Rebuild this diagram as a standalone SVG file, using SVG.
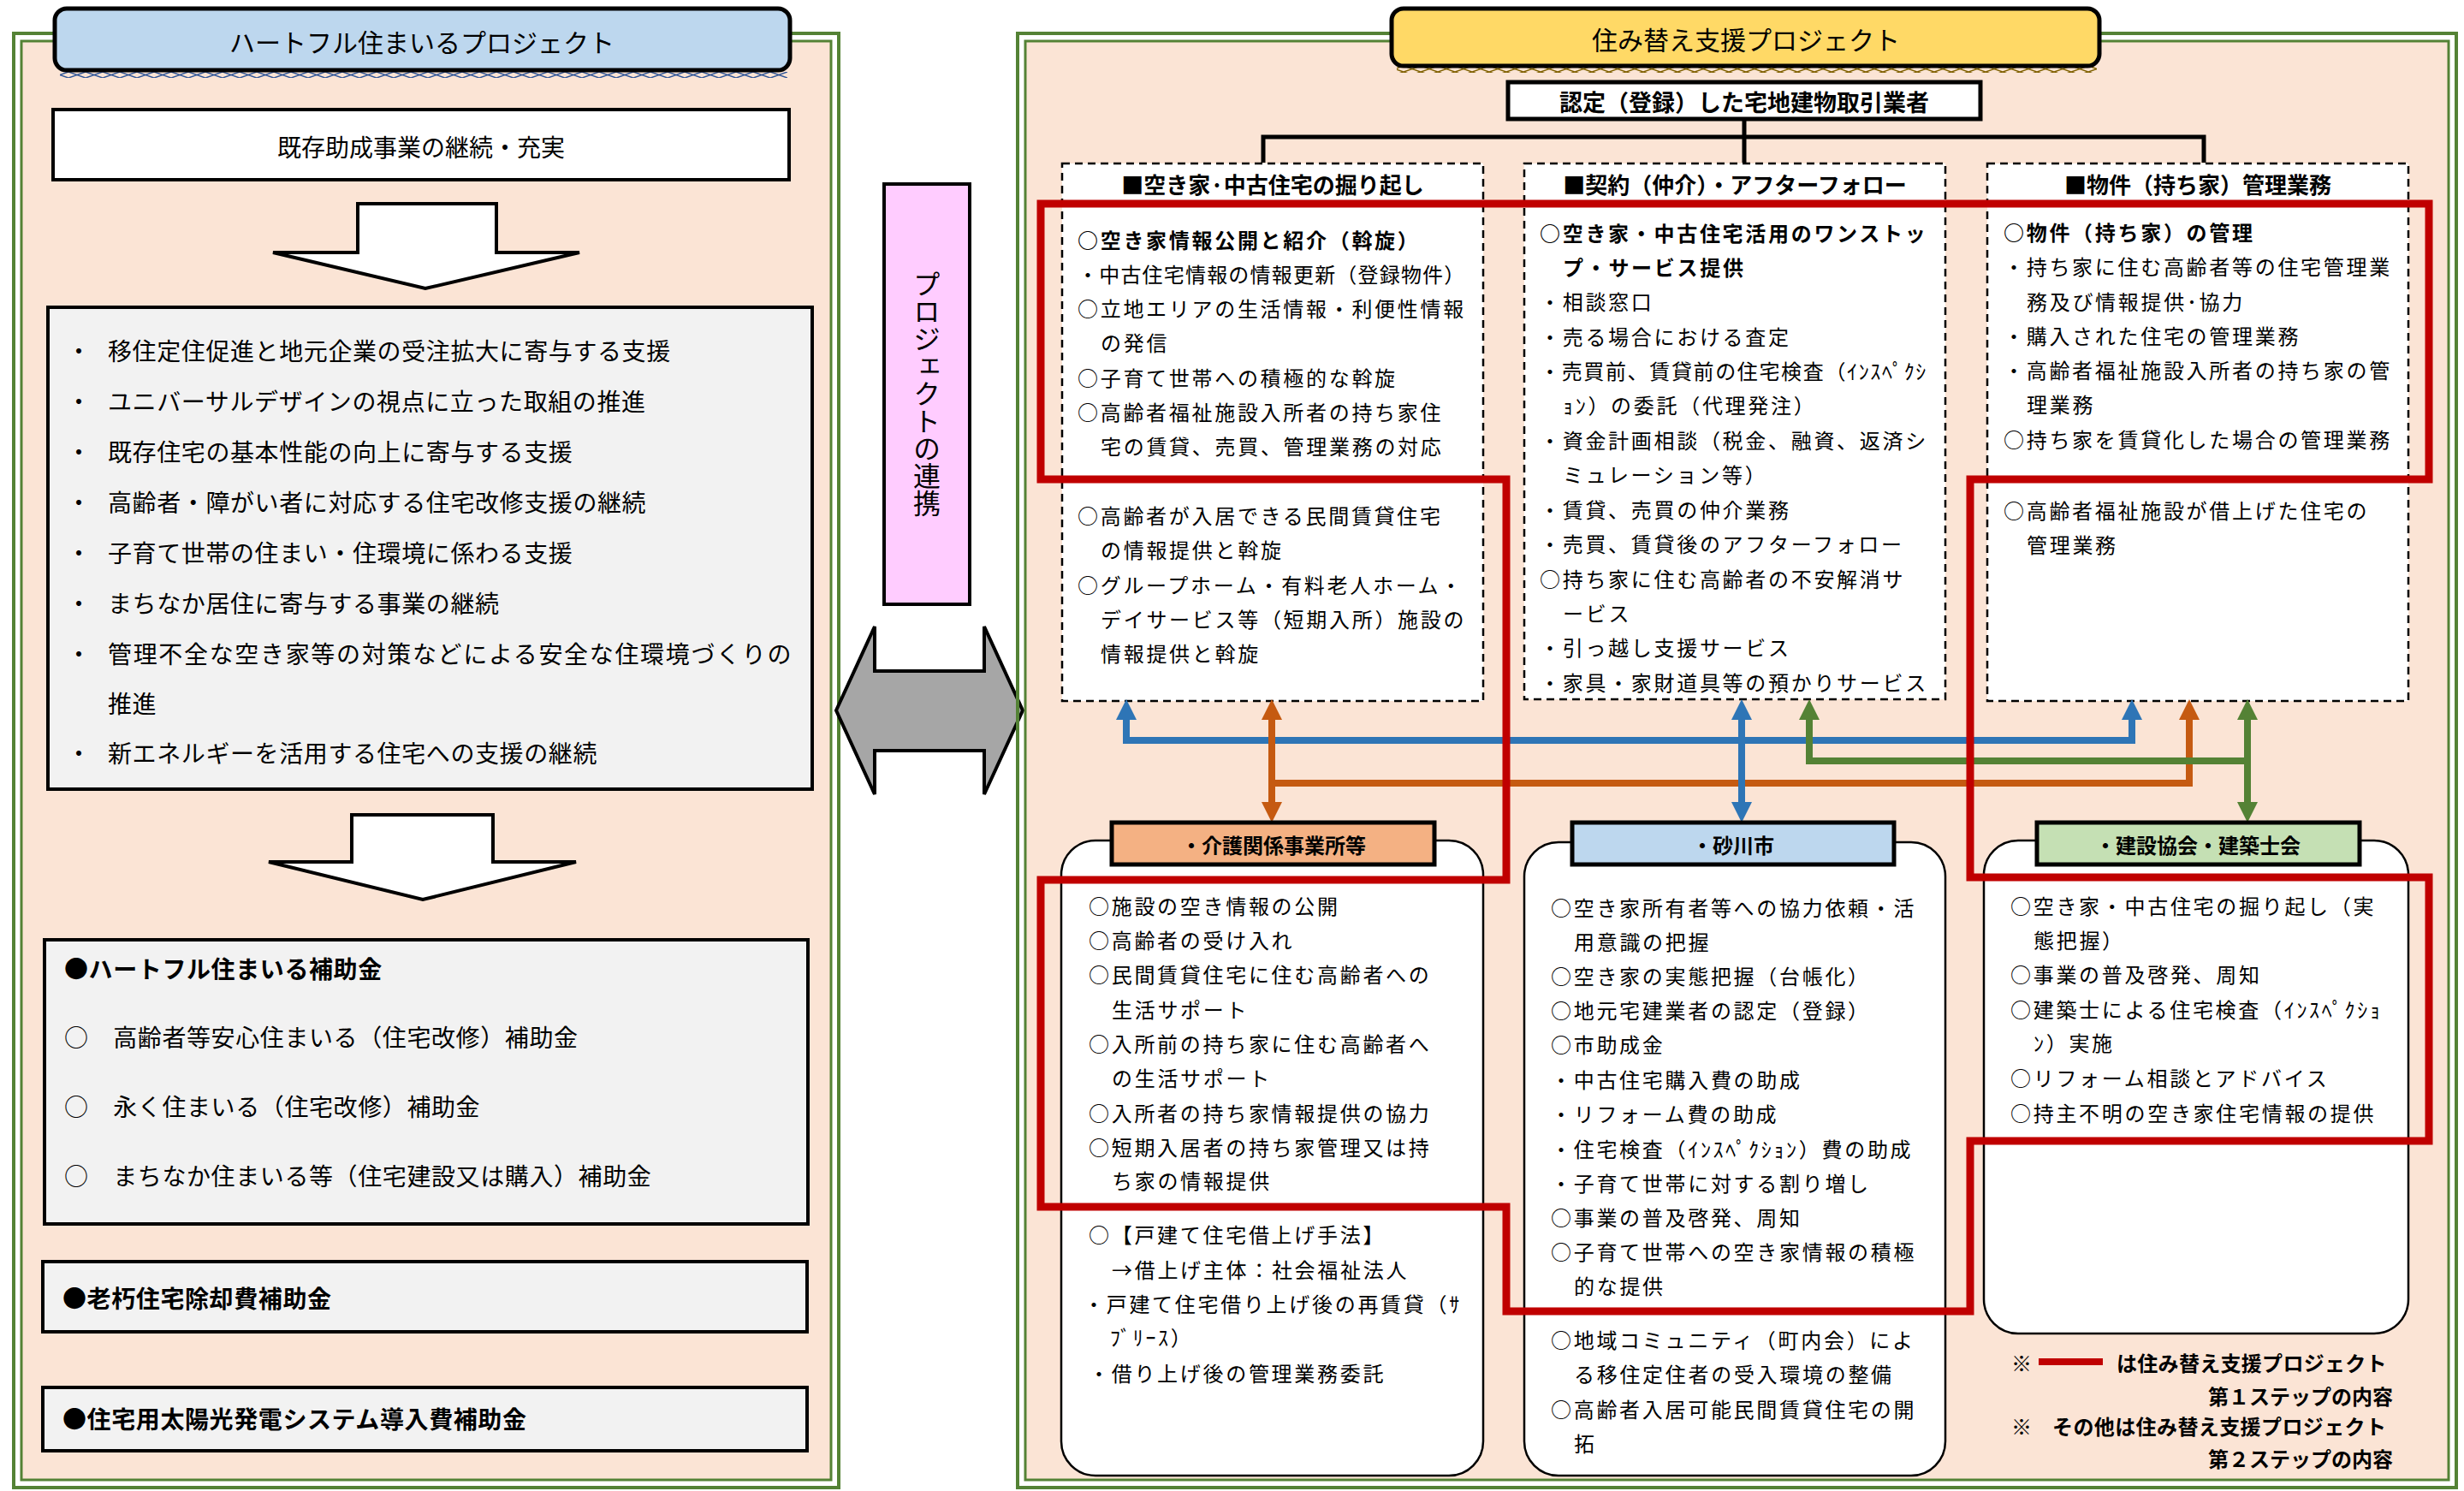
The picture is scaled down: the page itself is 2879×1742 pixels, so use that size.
<svg xmlns="http://www.w3.org/2000/svg" width="2879" height="1742" viewBox="0 0 2879 1742">
<style>
text{font-family:"Noto Sans CJK JP","Noto Sans",sans-serif;fill:#000;dominant-baseline:central}
.lp{font-size:28px;letter-spacing:0.6px}
.b{font-weight:700}
.c{text-anchor:middle}
.bd{font-size:24px;letter-spacing:2.7px}
.hd{font-size:26px;font-weight:700;text-anchor:middle}
.lb{font-size:24px;font-weight:700;text-anchor:middle}
.g1{fill:none;stroke:#548235;stroke-width:4}
.g2{fill:#FBE4D5;stroke:#548235;stroke-width:3}
.bx{stroke:#000;stroke-width:4}
.dash{fill:#fff;stroke:#000;stroke-width:2.5;stroke-dasharray:9 6}
.rb{fill:#fff;stroke:#000;stroke-width:2.5}
.lab{stroke:#000;stroke-width:5}
.arw{fill:#fff;stroke:#000;stroke-width:4;stroke-linejoin:miter}
.cn{fill:none;stroke-width:8}
</style>
<defs>
<pattern id="zzb" width="20" height="7" patternUnits="userSpaceOnUse"><path d="M0,0 L20,7 M0,7 L20,0" stroke="#2F5597" stroke-width="1.5" fill="none"/></pattern>
<pattern id="zzy" width="20" height="7" patternUnits="userSpaceOnUse"><path d="M0,0 L20,7 M0,7 L20,0" stroke="#7F6000" stroke-width="1.5" fill="none"/></pattern>
<marker id="mb" markerUnits="userSpaceOnUse" markerWidth="26" markerHeight="26" refX="0" refY="12" orient="auto-start-reverse" overflow="visible"><path d="M0,0 L24,12 L0,24 z" fill="#2E75B6"/></marker>
<marker id="mo" markerUnits="userSpaceOnUse" markerWidth="26" markerHeight="26" refX="0" refY="12" orient="auto-start-reverse" overflow="visible"><path d="M0,0 L24,12 L0,24 z" fill="#C55A11"/></marker>
<marker id="mg" markerUnits="userSpaceOnUse" markerWidth="26" markerHeight="26" refX="0" refY="12" orient="auto-start-reverse" overflow="visible"><path d="M0,0 L24,12 L0,24 z" fill="#548235"/></marker>
</defs>
<rect width="2879" height="1742" fill="#fff"/>

<!-- LEFT PANEL -->
<g id="left-panel">
<rect class="g1" x="16" y="39" width="964" height="1699"/>
<rect class="g2" x="25" y="48" width="946" height="1681"/>
<rect x="70" y="84" width="850" height="7" fill="url(#zzb)"/>
</g>
<g id="left-title">
<rect x="64" y="10" width="859" height="72" rx="14" fill="#BDD7EE" stroke="#000" stroke-width="5"/>
<text class="c" x="493" y="48" font-size="30">ハートフル住まいるプロジェクト</text>
</g>
<g id="node-kizon">
<rect class="bx" x="62" y="128" width="860" height="82" fill="#fff"/>
<text class="c" x="492" y="171" font-size="28">既存助成事業の継続・充実</text>
</g>
<g id="arrow-down-1"><polygon class="arw" points="418,238 580,238 580,295 677,295 497,337 319,295 418,295"/></g>
<g id="node-list">
<rect class="bx" x="56" y="359" width="893" height="563" fill="#F2F2F2"/>
<g class="lp">
<text x="78" y="409">・</text><text x="126" y="409">移住定住促進と地元企業の受注拡大に寄与する支援</text>
<text x="78" y="468">・</text><text x="126" y="468">ユニバーサルデザインの視点に立った取組の推進</text>
<text x="78" y="527">・</text><text x="126" y="527">既存住宅の基本性能の向上に寄与する支援</text>
<text x="78" y="586">・</text><text x="126" y="586">高齢者・障がい者に対応する住宅改修支援の継続</text>
<text x="78" y="645">・</text><text x="126" y="645">子育て世帯の住まい・住環境に係わる支援</text>
<text x="78" y="704">・</text><text x="126" y="704">まちなか居住に寄与する事業の継続</text>
<text x="78" y="763">・</text><text x="126" y="763" textLength="799" lengthAdjust="spacing">管理不全な空き家等の対策などによる安全な住環境づくりの</text>
<text x="126" y="821">推進</text>
<text x="78" y="879">・</text><text x="126" y="879">新エネルギーを活用する住宅への支援の継続</text>
</g>
</g>
<g id="arrow-down-2"><polygon class="arw" points="411,952 576,952 576,1007 673,1007 494,1051 314,1007 411,1007"/></g>
<g id="node-hojokin">
<rect class="bx" x="52" y="1098" width="892" height="332" fill="#F2F2F2"/>
<g class="lp">
<text class="b" x="75" y="1131">●ハートフル住まいる補助金</text>
<text x="75" y="1211">○　高齢者等安心住まいる（住宅改修）補助金</text>
<text x="75" y="1292">○　永く住まいる（住宅改修）補助金</text>
<text x="75" y="1373">○　まちなか住まいる等（住宅建設又は購入）補助金</text>
</g>
</g>
<g id="node-rokyu">
<rect class="bx" x="50" y="1474" width="893" height="82" fill="#F2F2F2"/>
<text class="lp b" x="73" y="1516">●老朽住宅除却費補助金</text>
</g>
<g id="node-taiyoko">
<rect class="bx" x="50" y="1621" width="893" height="74" fill="#F2F2F2"/>
<text class="lp b" x="73" y="1657">●住宅用太陽光発電システム導入費補助金</text>
</g>

<!-- MIDDLE -->
<g id="node-renkei">
<rect x="1033" y="215" width="100" height="491" fill="#FFCCFF" stroke="#000" stroke-width="4"/>
<text x="1083" y="460" font-size="32" text-anchor="middle" style="writing-mode:vertical-rl">プロジェクトの連携</text>
</g>
<g id="arrow-both">
<polygon points="977,830 1022,732 1022,784 1150,784 1150,732 1195,830 1150,928 1150,877 1022,877 1022,928" fill="#A6A6A6" stroke="#000" stroke-width="4"/>
</g>

<!-- RIGHT PANEL -->
<g id="right-panel">
<rect class="g1" x="1189" y="39" width="1681" height="1699"/>
<rect class="g2" x="1198" y="48" width="1663" height="1681"/>
<rect x="1632" y="78" width="818" height="7" fill="url(#zzy)"/>
</g>
<g id="right-title">
<rect x="1626" y="10" width="827" height="67" rx="14" fill="#FFD966" stroke="#000" stroke-width="5"/>
<text class="c" x="2040" y="45" font-size="30">住み替え支援プロジェクト</text>
</g>
<g id="node-nintei">
<rect x="1762" y="96" width="552" height="43" fill="#fff" stroke="#000" stroke-width="5"/>
<text class="c b" x="2038" y="118" font-size="27">認定（登録）した宅地建物取引業者</text>
</g>

<g id="connectors">
<path d="M2038,139 V190 M1476,190 V160 H2575 V190" fill="none" stroke="#000" stroke-width="5"/>
</g>

<g id="node-horiokoshi">
<rect class="dash" x="1241" y="191" width="492" height="628"/>
<text class="hd" x="1487" y="214">■空き家·中古住宅の掘り起し</text>
<g class="bd">
<text class="b" x="1259" y="279">○空き家情報公開と紹介（斡旋）</text>
<text x="1259" y="319" textLength="455" lengthAdjust="spacing">・中古住宅情報の情報更新（登録物件）</text>
<text x="1259" y="359">○立地エリアの生活情報・利便性情報</text>
<text x="1286" y="399">の発信</text>
<text x="1259" y="440">○子育て世帯への積極的な斡旋</text>
<text x="1259" y="480">○高齢者福祉施設入所者の持ち家住</text>
<text x="1286" y="520">宅の賃貸、売買、管理業務の対応</text>
<text x="1259" y="601">○高齢者が入居できる民間賃貸住宅</text>
<text x="1286" y="641">の情報提供と斡旋</text>
<text x="1259" y="682">○グループホーム・有料老人ホーム・</text>
<text x="1286" y="722">デイサービス等（短期入所）施設の</text>
<text x="1286" y="762">情報提供と斡旋</text>
</g>
</g>

<g id="node-keiyaku">
<rect class="dash" x="1781" y="191" width="492" height="626"/>
<text class="hd" x="2027" y="214">■契約（仲介）・アフターフォロー</text>
<g class="bd">
<text class="b" x="1799" y="271">○空き家・中古住宅活用のワンストッ</text>
<text class="b" x="1826" y="311">プ・サービス提供</text>
<text x="1799" y="351">・相談窓口</text>
<text x="1799" y="392">・売る場合における査定</text>
<text x="1799" y="432" textLength="454" lengthAdjust="spacing">・売買前、賃貸前の住宅検査（ｲﾝｽﾍﾟｸｼ</text>
<text x="1826" y="472">ｮﾝ）の委託（代理発注）</text>
<text x="1799" y="513">・資金計画相談（税金、融資、返済シ</text>
<text x="1826" y="553">ミュレーション等）</text>
<text x="1799" y="594">・賃貸、売買の仲介業務</text>
<text x="1799" y="634">・売買、賃貸後のアフターフォロー</text>
<text x="1799" y="675">○持ち家に住む高齢者の不安解消サ</text>
<text x="1826" y="715">ービス</text>
<text x="1799" y="755">・引っ越し支援サービス</text>
<text x="1799" y="796">・家具・家財道具等の預かりサービス</text>
</g>
</g>

<g id="node-bukken">
<rect class="dash" x="2322" y="191" width="492" height="628"/>
<text class="hd" x="2568" y="214">■物件（持ち家）管理業務</text>
<g class="bd">
<text class="b" x="2341" y="270">○物件（持ち家）の管理</text>
<text x="2341" y="310">・持ち家に住む高齢者等の住宅管理業</text>
<text x="2368" y="351">務及び情報提供･協力</text>
<text x="2341" y="391">・購入された住宅の管理業務</text>
<text x="2341" y="431">・高齢者福祉施設入所者の持ち家の管</text>
<text x="2368" y="471">理業務</text>
<text x="2341" y="512">○持ち家を賃貸化した場合の管理業務</text>
<text x="2341" y="595">○高齢者福祉施設が借上げた住宅の</text>
<text x="2368" y="635">管理業務</text>
</g>
</g>

<g id="colored-connectors">
<path class="cn" stroke="#2E75B6" d="M2491,841 V865 H1316 V841" marker-start="url(#mb)" marker-end="url(#mb)"/>
<path class="cn" stroke="#C55A11" d="M2558,841 V915 H1486" marker-start="url(#mo)"/>
<path class="cn" stroke="#548235" d="M2114,841 V889 H2626" marker-start="url(#mg)"/>
<path class="cn" stroke="#C55A11" d="M1486,841 V937" marker-start="url(#mo)" marker-end="url(#mo)"/>
<path class="cn" stroke="#2E75B6" d="M2035,841 V937" marker-start="url(#mb)" marker-end="url(#mb)"/>
<path class="cn" stroke="#548235" d="M2626,841 V937" marker-start="url(#mg)" marker-end="url(#mg)"/>
</g>

<g id="node-kaigo">
<rect class="rb" x="1240" y="982" width="493" height="742" rx="40"/>
<rect class="lab" x="1299" y="961" width="377" height="49" fill="#F4B183"/>
<text class="lb" x="1488" y="986">・介護関係事業所等</text>
<g class="bd">
<text x="1272" y="1057">○施設の空き情報の公開</text>
<text x="1272" y="1097">○高齢者の受け入れ</text>
<text x="1272" y="1137">○民間賃貸住宅に住む高齢者への</text>
<text x="1299" y="1178">生活サポート</text>
<text x="1272" y="1218">○入所前の持ち家に住む高齢者へ</text>
<text x="1299" y="1258">の生活サポート</text>
<text x="1272" y="1299">○入所者の持ち家情報提供の協力</text>
<text x="1272" y="1339">○短期入居者の持ち家管理又は持</text>
<text x="1299" y="1378">ち家の情報提供</text>
<text x="1272" y="1441">○【戸建て住宅借上げ手法】</text>
<text x="1299" y="1482">→借上げ主体：社会福祉法人</text>
<text x="1266" y="1522">・戸建て住宅借り上げ後の再賃貸（ｻ</text>
<text x="1297" y="1561">ﾌﾞﾘｰｽ）</text>
<text x="1272" y="1603">・借り上げ後の管理業務委託</text>
</g>
</g>

<g id="node-sunagawa">
<rect class="rb" x="1781" y="984" width="492" height="740" rx="40"/>
<rect class="lab" x="1837" y="961" width="376" height="49" fill="#BDD7EE"/>
<text class="lb" x="2025" y="986">・砂川市</text>
<g class="bd">
<text x="1812" y="1059">○空き家所有者等への協力依頼・活</text>
<text x="1839" y="1099">用意識の把握</text>
<text x="1812" y="1139">○空き家の実態把握（台帳化）</text>
<text x="1812" y="1179">○地元宅建業者の認定（登録）</text>
<text x="1812" y="1219">○市助成金</text>
<text x="1812" y="1260">・中古住宅購入費の助成</text>
<text x="1812" y="1300">・リフォーム費の助成</text>
<text x="1812" y="1341">・住宅検査（ｲﾝｽﾍﾟｸｼｮﾝ）費の助成</text>
<text x="1812" y="1381">・子育て世帯に対する割り増し</text>
<text x="1812" y="1421">○事業の普及啓発、周知</text>
<text x="1812" y="1461">○子育て世帯への空き家情報の積極</text>
<text x="1839" y="1501">的な提供</text>
<text x="1812" y="1564">○地域コミュニティ（町内会）によ</text>
<text x="1839" y="1604">る移住定住者の受入環境の整備</text>
<text x="1812" y="1645">○高齢者入居可能民間賃貸住宅の開</text>
<text x="1839" y="1685">拓</text>
</g>
</g>

<g id="node-kensetsu">
<rect class="rb" x="2318" y="982" width="496" height="576" rx="40"/>
<rect class="lab" x="2380" y="961" width="377" height="49" fill="#C5E0B4"/>
<text class="lb" x="2568" y="986">・建設協会・建築士会</text>
<g class="bd">
<text x="2349" y="1057">○空き家・中古住宅の掘り起し（実</text>
<text x="2376" y="1097">態把握）</text>
<text x="2349" y="1137">○事業の普及啓発、周知</text>
<text x="2349" y="1178">○建築士による住宅検査（ｲﾝｽﾍﾟｸｼｮ</text>
<text x="2376" y="1217">ﾝ）実施</text>
<text x="2349" y="1258">○リフォーム相談とアドバイス</text>
<text x="2349" y="1299">○持主不明の空き家住宅情報の提供</text>
</g>
</g>

<g id="step1-outline">
<path d="M1216,238 H2838 V560 H2302 V1025 H2838 V1333 H2302 V1532 H1760 V1410 H1216 V1028 H1760 V560 H1216 Z" fill="none" stroke="#C00000" stroke-width="9"/>
</g>

<g id="legend">
<text x="2350" y="1591" font-size="24">※</text>
<line x1="2382" y1="1591" x2="2457" y2="1591" stroke="#C00000" stroke-width="8"/>
<text class="b" x="2473" y="1591" font-size="24" letter-spacing="0.3">は住み替え支援プロジェクト</text>
<text class="b" x="2796" y="1630" font-size="24" text-anchor="end">第１ステップの内容</text>
<text x="2350" y="1665" font-size="24">※</text>
<text class="b" x="2398" y="1665" font-size="24" letter-spacing="0.4">その他は住み替え支援プロジェクト</text>
<text class="b" x="2796" y="1703" font-size="24" text-anchor="end">第２ステップの内容</text>
</g>
</svg>
